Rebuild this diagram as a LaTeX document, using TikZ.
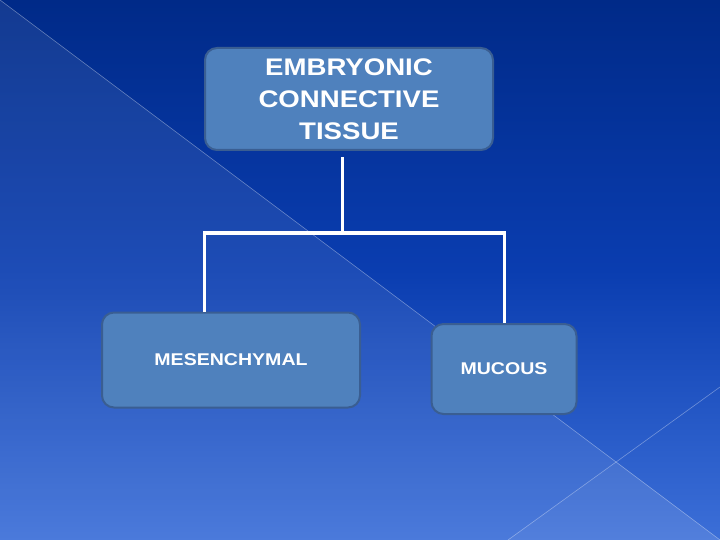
\documentclass[tikz,border=0pt]{standalone}
\usepackage{fontspec}
\setmainfont{Liberation Sans}
\newfontfamily\boxfont[FakeStretch=1.15]{Liberation Sans}
\usetikzlibrary{calc}

\definecolor{bgtop}{HTML}{002A88}
\definecolor{bgmid}{HTML}{0A3DB0}
\definecolor{bgbot}{HTML}{3C6FD8}
\definecolor{boxfill}{HTML}{4F81BD}
\definecolor{boxline}{HTML}{3A5E92}

\begin{document}
\begin{tikzpicture}[x=1pt,y=-1pt,
    box/.style={draw=boxline, line width=2pt, fill=boxfill,
                rounded corners=12pt, text=white, align=center,
                inner sep=0pt},
    link/.style={draw=white, line width=3pt, line join=miter}]
    % background
    \useasboundingbox (0,0) rectangle (720,540);
    \shade[top color=bgtop, bottom color=bgbot, middle color=bgmid]
        (0,0) rectangle (720,540);
    \fill[white, opacity=0.08] (0,0) -- (720,540) -- (0,540) -- cycle;
    \fill[white, opacity=0.04] (508,540) -- (617,462) -- (720,540) -- cycle;
    \draw[white, opacity=0.35, line width=0.6pt] (0,0) -- (720,540);
    \draw[white, opacity=0.35, line width=0.6pt] (508,540) -- (720,387);

    % boxes
    \node[box, minimum width=288pt, minimum height=102pt,
          font=\boxfont\bfseries\fontsize{24}{32}\selectfont] (ect) at (349,99)
          {EMBRYONIC\\CONNECTIVE\\TISSUE};
    \node[box, minimum width=258pt, minimum height=95pt,
          font=\boxfont\bfseries\fontsize{17}{24}\selectfont] (mes) at (231,360)
          {MESENCHYMAL};
    \node[box, minimum width=145pt, minimum height=90pt,
          font=\boxfont\bfseries\fontsize{17}{24}\selectfont] (muc) at (504,369)
          {MUCOUS};

    %edges
    \coordinate (stem)  at (342,157);
    \coordinate (split) at (342,233);
    \coordinate (mesin) at (204,312);
    \coordinate (mucin) at (504,323);
    \draw[link] (stem) -- (split);
    \draw[link] (mesin) |- (split) -| (mucin);
\end{tikzpicture}
\end{document}
